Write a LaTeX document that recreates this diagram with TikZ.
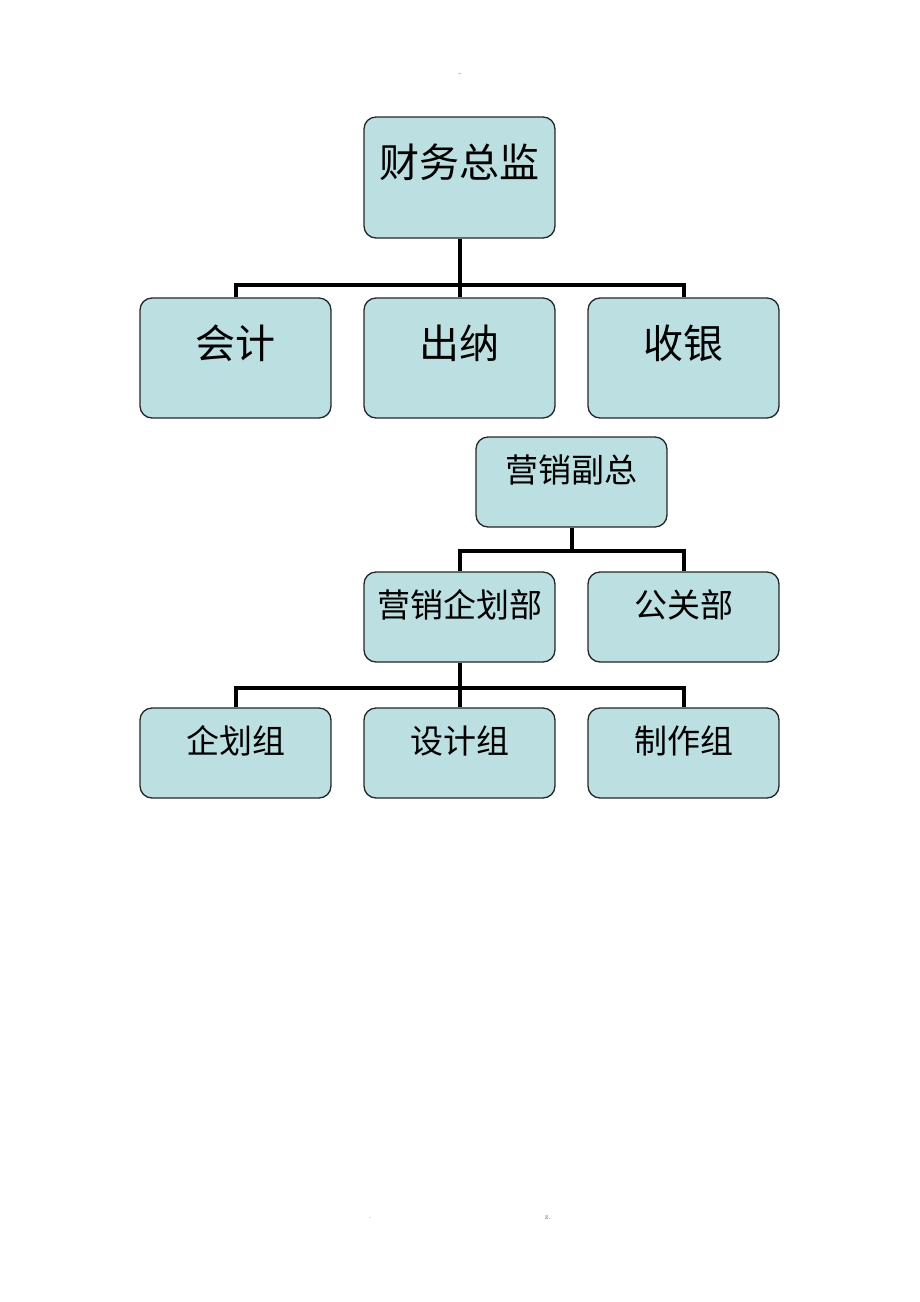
\documentclass[tikz,border=0pt]{standalone}
\usepackage{fontspec}
\newfontfamily\cjk{Noto Sans CJK SC}
\usetikzlibrary{positioning}
\definecolor{boxfill}{RGB}{188,223,226}

\begin{document}
\begin{tikzpicture}[
        x=1pt, y=-1pt,
        orgbox/.style={rectangle,draw=black!85,line width=1.3pt,fill=boxfill,rounded corners=12pt,minimum width=191pt,text height=0.5em,text depth=0.5em,inner sep=0pt},
        bigbox/.style={orgbox,minimum height=120pt,font=\cjk\fontsize{40}{48}\selectfont},
        smallbox/.style={orgbox,minimum height=90pt,font=\cjk\fontsize{33}{40}\selectfont},
        link/.style={line width=4pt,black,line join=miter},
        pagemark/.style={font=\fontsize{8}{9}\selectfont,text=black!60,inner sep=0pt},
        ]
        \useasboundingbox (0,0) rectangle (920,1302);

        \node[pagemark](topmark) at (460,75){-};

        % finance
        \node[bigbox, minimum height=121pt](cfo) at (459.5,177.5){财务总监};
        \node[bigbox](kuaiji) at (235.5,358){会计};
        \node[bigbox](chuna) at (459.5,358){出纳};
        \node[bigbox](shouyin) at (683.5,358){收银};

        \draw[link] (kuaiji.north) |- (shouyin.north |- 0,285) -- (shouyin.north);
        \draw[link] (cfo.south) -- (chuna.north);

        % marketing
        \node[smallbox](yxfz) at (571.5,482){营销副总};
        \node[smallbox](qhb) at (459.5,617){营销企划部};
        \node[smallbox](ggb) at (683.5,617){公关部};

        \draw[link] (qhb.north) |- (ggb.north |- 0,551) -- (ggb.north);
        \draw[link] (yxfz.south) -- (yxfz.south |- 0,551);

        \node[smallbox](qhz) at (235.5,753){企划组};
        \node[smallbox](sjz) at (459.5,753){设计组};
        \node[smallbox](zzz) at (683.5,753){制作组};

        \draw[link] (qhz.north) |- (zzz.north |- 0,688) -- (zzz.north);
        \draw[link] (qhb.south) -- (sjz.north);

        \node[pagemark](footl) at (370,1218){.};
        \node[pagemark](footr) at (548,1218){z.};
\end{tikzpicture}
\end{document}
